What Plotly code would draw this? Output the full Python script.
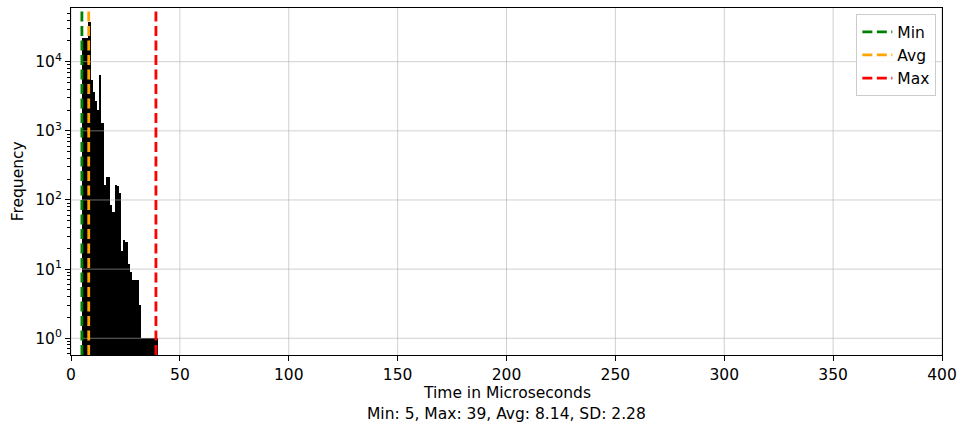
import plotly.graph_objects as go
import math

# Histogram bins (1 microsecond wide, left edges) and their counts
bin_edges = list(range(5, 40))
bin_counts = [21900, 22100, 22300, 37200, 5360, 3590, 2660, 2015, 6410, 1290,
              165, 218, 216, 85, 68, 162, 160, 128, 18, 26,
              25, 12, 9, 7, 7, 7, 3, 1, 1, 1,
              1, 1, 1, 1, 1]

# Summary statistics of the latency samples
stat_min = 5
stat_max = 39
stat_avg = 8.14
stat_sd = 2.28

x_ticks = [0, 50, 100, 150, 200, 250, 300, 350, 400]
y_ticks = [1, 10, 100, 1000, 10000]
y_tick_text = ["10<sup>0</sup>", "10<sup>1</sup>", "10<sup>2</sup>",
               "10<sup>3</sup>", "10<sup>4</sup>"]
y_minor = [m * d for d in [0.1] + y_ticks for m in range(2, 10)]

y_lo, y_hi = 0.573, 59760
FONT = "DejaVu Sans"
FS = 15.5
GRID = "rgba(176,176,176,0.6)"

fig = go.Figure()

fig.add_trace(go.Bar(
    x=bin_edges, y=bin_counts, offset=0, width=1,
    marker=dict(color="black", line=dict(width=0)),
    showlegend=False,
))

# Grid lines drawn over the bars
shapes = []
for t in x_ticks:
    shapes.append(dict(type="line", xref="x", yref="y domain", x0=t, x1=t, y0=0, y1=1,
                       line=dict(color=GRID, width=1), layer="above"))
for t in y_ticks:
    shapes.append(dict(type="line", xref="x domain", yref="y", x0=0, x1=1, y0=t, y1=t,
                       line=dict(color=GRID, width=1), layer="above"))

# Min / Avg / Max markers
markers = [("Min", stat_min, "green"), ("Avg", stat_avg, "orange"), ("Max", stat_max, "red")]
for name, val, color in markers:
    shapes.append(dict(type="line", xref="x", yref="y domain", x0=val, x1=val, y0=0, y1=1,
                       line=dict(color=color, width=2.8, dash="10px,4.5px"), layer="above"))
    fig.add_trace(go.Scatter(x=[None], y=[None], mode="lines", name=name,
                             line=dict(color=color, width=2.8, dash="10px,4.5px")))

fig.update_layout(
    width=960, height=428,
    margin=dict(l=71, r=18, t=8, b=73, autoexpand=False),
    paper_bgcolor="white", plot_bgcolor="white",
    font=dict(family=FONT, size=FS, color="black"),
    bargap=0,
    shapes=shapes,
    legend=dict(x=0.9935, xanchor="right", y=0.982, yanchor="top",
                bgcolor="rgba(255,255,255,0.8)", bordercolor="#cccccc", borderwidth=1,
                font=dict(family=FONT, size=FS), itemwidth=30,
                tracegroupgap=0),
    xaxis=dict(range=[0, 400], tickvals=x_ticks, showgrid=False, zeroline=False,
               automargin=False,
               showline=True, linecolor="black", linewidth=1, mirror=True,
               ticks="outside", ticklen=5, tickwidth=1, tickcolor="black",
               tickfont=dict(family=FONT, size=FS)),
    yaxis=dict(type="log", range=[math.log10(y_lo), math.log10(y_hi)],
               automargin=False,
               tickvals=y_ticks, ticktext=y_tick_text, showgrid=False, zeroline=False,
               showline=True, linecolor="black", linewidth=1, mirror=True,
               ticks="outside", ticklen=5, tickwidth=1, tickcolor="black",
               tickfont=dict(family=FONT, size=FS),
               minor=dict(tickvals=y_minor, ticks="outside", ticklen=3, tickwidth=0.8,
                          tickcolor="black", showgrid=False)),
    annotations=[
        dict(text="Time in Microseconds", xref="paper", yref="paper",
             x=0.5, y=-0.109, xanchor="center", yanchor="middle", showarrow=False,
             font=dict(family=FONT, size=FS)),
        dict(text=f"Min: {stat_min}, Max: {stat_max}, Avg: {stat_avg}, SD: {stat_sd}",
             xref="paper", yref="paper", x=0.5, y=-0.170, xanchor="center",
             yanchor="middle", showarrow=False, font=dict(family=FONT, size=FS)),
        dict(text="Frequency", xref="paper", yref="paper", x=-0.061, y=0.5,
             xanchor="center", yanchor="middle", textangle=-90, showarrow=False,
             font=dict(family=FONT, size=FS)),
    ],
)

fig.write_html("out.html")
